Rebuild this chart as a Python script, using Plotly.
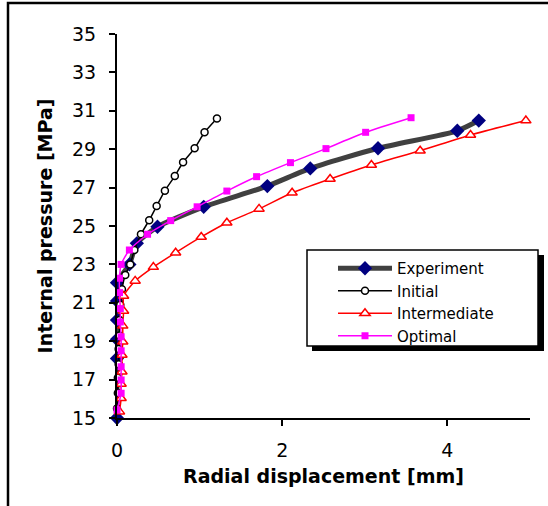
import plotly.graph_objects as go

# ---- data ----
exp_x = [0.0, 0.0, 0.0, 0.0, 0.0, 0.0, 0.15, 0.24, 0.49, 1.05, 1.82, 2.34, 3.16, 4.12, 4.38]
exp_y = [15.0, 18.1, 19.1, 20.1, 21.1, 22.05, 23.0, 24.1, 24.96, 26.0, 27.08, 28.0, 29.05, 29.96, 30.49]

ini_x = [0.0, 0.01, 0.01, 0.02, 0.02, 0.03, 0.03, 0.04, 0.06, 0.1, 0.16, 0.21, 0.29, 0.39, 0.48, 0.58, 0.70, 0.80, 0.94, 1.06, 1.21]
ini_y = [15.5, 16.3, 17.1, 17.8, 18.6, 19.3, 20.1, 20.9, 21.7, 22.45, 23.0, 23.75, 24.57, 25.3, 26.04, 26.84, 27.6, 28.32, 29.05, 29.88, 30.6]

int_x = [0.03, 0.05, 0.05, 0.06, 0.06, 0.07, 0.07, 0.08, 0.08, 0.22, 0.44, 0.71, 1.02, 1.33, 1.72, 2.12, 2.58, 3.08, 3.67, 4.28, 4.95]
int_y = [15.33, 16.03, 16.77, 17.41, 18.28, 18.97, 19.8, 20.57, 21.35, 22.14, 22.86, 23.61, 24.43, 25.17, 25.89, 26.73, 27.45, 28.18, 28.92, 29.74, 30.49]

opt_x = [0.0, 0.05, 0.05, 0.05, 0.05, 0.05, 0.04, 0.04, 0.03, 0.03, 0.05, 0.15, 0.37, 0.65, 0.97, 1.33, 1.69, 2.10, 2.53, 3.01, 3.56]
opt_y = [15.42, 16.29, 16.98, 17.67, 18.5, 19.23, 20.0, 20.7, 21.53, 22.28, 23.0, 23.75, 24.57, 25.28, 26.0, 26.82, 27.57, 28.3, 29.03, 29.88, 30.64]

x_ticks = [0, 2, 4]
y_ticks = [15, 17, 19, 21, 23, 25, 27, 29, 31, 33, 35]

FONT = "DejaVu Sans"
W, H = 548, 506
L, R, T, B = 117, 18, 34, 88
PW, PH = W - L - R, H - T - B


def px(x):
    return (x - L) / PW


def py(y):
    return (H - B - y) / PH


fig = go.Figure()
fig.add_trace(go.Scatter(
    x=exp_x, y=exp_y, name="Experiment", mode="lines+markers", cliponaxis=False,
    line=dict(color="#404040", width=5, shape="spline", smoothing=0.6),
    marker=dict(symbol="diamond", size=11, color="#000080", line=dict(width=0))))
fig.add_trace(go.Scatter(
    x=ini_x, y=ini_y, name="Initial", mode="lines+markers", cliponaxis=False,
    line=dict(color="black", width=1.5, shape="spline", smoothing=0.6),
    marker=dict(symbol="circle", size=7, color="white", line=dict(color="black", width=1.5))))
fig.add_trace(go.Scatter(
    x=int_x, y=int_y, name="Intermediate", mode="lines+markers", cliponaxis=False,
    line=dict(color="#FF0000", width=1.5, shape="spline", smoothing=0.6),
    marker=dict(symbol="triangle-up", size=9, color="white", line=dict(color="#FF0000", width=1.5))))
fig.add_trace(go.Scatter(
    x=opt_x, y=opt_y, name="Optimal", mode="lines+markers", cliponaxis=False,
    line=dict(color="#FF00FF", width=1.5, shape="spline", smoothing=0.6),
    marker=dict(symbol="square", size=7, color="#FF00FF", line=dict(width=0))))

shapes = [
    # outer chart frame
    dict(type="rect", xref="paper", yref="paper", x0=px(8), x1=px(W + 10), y0=py(H + 10), y1=py(3),
         line=dict(color="black", width=2.5), fillcolor="rgba(0,0,0,0)", layer="below"),
    # legend shadow
    dict(type="rect", xref="paper", yref="paper", x0=px(312), x1=px(544), y0=py(351), y1=py(255),
         line=dict(width=0), fillcolor="black", layer="above"),
    # legend box
    dict(type="rect", xref="paper", yref="paper", x0=px(307), x1=px(538), y0=py(346), y1=py(250),
         line=dict(color="black", width=1.5), fillcolor="white", layer="above"),
]

fig.update_layout(
    width=W, height=H,
    margin=dict(l=L, r=R, t=T, b=B, pad=0, autoexpand=False),
    paper_bgcolor="white", plot_bgcolor="white",
    font=dict(family=FONT, size=19, color="black"),
    showlegend=True,
    legend=dict(x=px(333), y=py(252), xanchor="left", yanchor="top",
                bgcolor="rgba(0,0,0,0)", borderwidth=0,
                font=dict(family=FONT, size=15, color="black"),
                tracegroupgap=0, itemsizing="trace", itemwidth=54),
    shapes=shapes,
    xaxis=dict(range=[0, 5], tickvals=x_ticks, ticktext=[str(v) for v in x_ticks],
               showline=True, linecolor="black", linewidth=2, mirror=False,
               ticks="outside", ticklen=6, tickwidth=2, tickcolor="black",
               showgrid=False, zeroline=False, ticklabelstandoff=8, automargin=False,
               tickfont=dict(family=FONT, size=19),
               title=dict(text="Radial displacement [mm]", standoff=10,
                          font=dict(family=FONT, size=19, weight="bold"))),
    yaxis=dict(range=[15, 35], tickvals=y_ticks, ticktext=[str(v) for v in y_ticks],
               showline=True, linecolor="black", linewidth=2, mirror=False,
               ticks="outside", ticklen=6, tickwidth=2, tickcolor="black",
               showgrid=False, zeroline=False, ticklabelstandoff=9, automargin=False,
               tickfont=dict(family=FONT, size=19),
               title=dict(text="Internal pressure [MPa]", standoff=14,
                          font=dict(family=FONT, size=19, weight="bold"))),
)

fig.write_html("out.html", config={"displayModeBar": False},
               post_script="document.body.style.margin='0';document.body.style.overflow='hidden';")
